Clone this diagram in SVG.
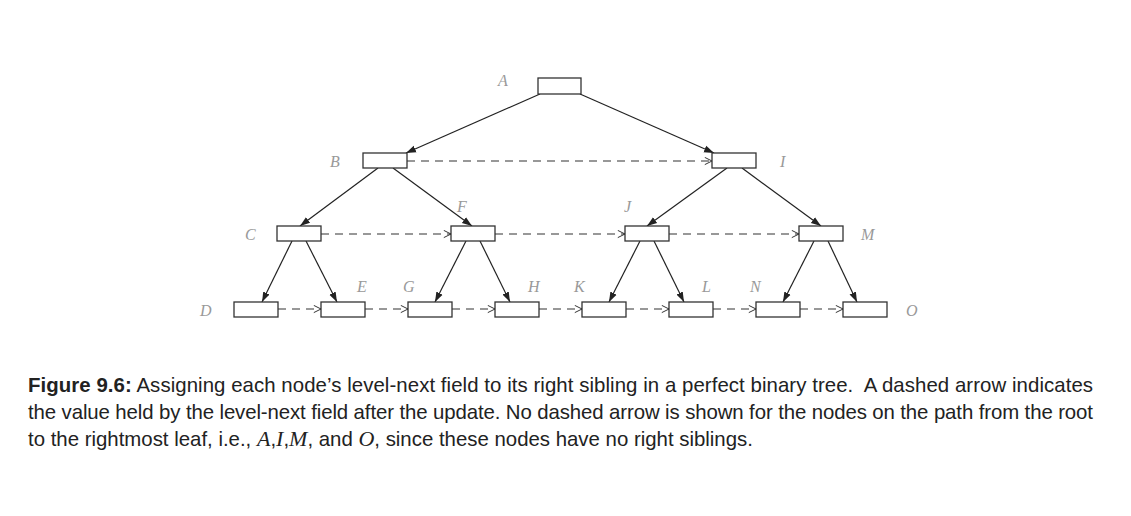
<svg xmlns="http://www.w3.org/2000/svg" width="1131" height="516" viewBox="0 0 1131 516">
<defs>
<marker id="solid" viewBox="0 0 10 10" refX="10" refY="5" markerWidth="10" markerHeight="10" markerUnits="userSpaceOnUse" orient="auto"><path d="M0,1.5 L10,5 L0,8.5 Z" fill="#222"/></marker>
<marker id="open" viewBox="0 0 10 10" refX="9" refY="5" markerWidth="9" markerHeight="9" markerUnits="userSpaceOnUse" orient="auto"><path d="M1,1 L9,5 L1,9" fill="none" stroke="#333" stroke-width="1.1"/></marker>
</defs>
<style>
.n{fill:#fff;stroke:#333;stroke-width:1.3}
.lbl{font-family:"Liberation Serif",serif;font-style:italic;font-size:16px;fill:#999}
.e{stroke:#222;stroke-width:1.2;fill:none;marker-end:url(#solid)}
.d{stroke:#333;stroke-width:1.2;fill:none;stroke-dasharray:8,6;marker-end:url(#open)}
.cap{font-family:"Liberation Sans",Arial,sans-serif;font-size:20.4px;fill:#222}
.capi{font-family:"Liberation Serif",serif;font-style:italic;font-size:22px}
</style>
<rect width="1131" height="516" fill="#fff"/>
<g id="connectors">
<line class="e" x1="540" y1="94" x2="406" y2="153"/>
<line class="e" x1="580" y1="94" x2="714" y2="153"/>
<line class="e" x1="378" y1="168" x2="300" y2="226"/>
<line class="e" x1="393" y1="168" x2="472" y2="226"/>
<line class="e" x1="727" y1="168" x2="647" y2="226"/>
<line class="e" x1="742" y1="168" x2="821" y2="226"/>
<line class="e" x1="292" y1="241" x2="262" y2="302"/>
<line class="e" x1="306" y1="241" x2="337" y2="302"/>
<line class="e" x1="466" y1="241" x2="435" y2="302"/>
<line class="e" x1="480" y1="241" x2="510" y2="302"/>
<line class="e" x1="640" y1="241" x2="609" y2="302"/>
<line class="e" x1="654" y1="241" x2="684" y2="302"/>
<line class="e" x1="814" y1="241" x2="783" y2="302"/>
<line class="e" x1="828" y1="241" x2="857" y2="302"/>
<line class="d" x1="407" y1="161" x2="712" y2="161"/>
<line class="d" x1="321" y1="234" x2="451" y2="234"/>
<line class="d" x1="495" y1="234" x2="625" y2="234"/>
<line class="d" x1="669" y1="234" x2="799" y2="234"/>
<line class="d" x1="278" y1="309" x2="321" y2="309"/>
<line class="d" x1="365" y1="309" x2="408" y2="309"/>
<line class="d" x1="452" y1="309" x2="495" y2="309"/>
<line class="d" x1="539" y1="309" x2="582" y2="309"/>
<line class="d" x1="626" y1="309" x2="669" y2="309"/>
<line class="d" x1="713" y1="309" x2="756" y2="309"/>
<line class="d" x1="800" y1="309" x2="843" y2="309"/>
</g>
<g id="A"><rect class="n" x="538" y="78" width="43" height="16"/><text class="lbl" x="498" y="86">A</text></g>
<g id="B"><rect class="n" x="363" y="153" width="44" height="15"/><text class="lbl" x="330" y="167">B</text></g>
<g id="I"><rect class="n" x="712" y="153" width="44" height="15"/><text class="lbl" x="780" y="167">I</text></g>
<g id="C"><rect class="n" x="277" y="226" width="44" height="15"/><text class="lbl" x="245" y="240">C</text></g>
<g id="F"><rect class="n" x="451" y="226" width="44" height="15"/><text class="lbl" x="457" y="212">F</text></g>
<g id="J"><rect class="n" x="625" y="226" width="44" height="15"/><text class="lbl" x="624" y="212">J</text></g>
<g id="M"><rect class="n" x="799" y="226" width="44" height="15"/><text class="lbl" x="861" y="240">M</text></g>
<g id="D"><rect class="n" x="234" y="302" width="44" height="15"/><text class="lbl" x="200" y="316">D</text></g>
<g id="E"><rect class="n" x="321" y="302" width="44" height="15"/><text class="lbl" x="357" y="292">E</text></g>
<g id="G"><rect class="n" x="408" y="302" width="44" height="15"/><text class="lbl" x="403" y="292">G</text></g>
<g id="H"><rect class="n" x="495" y="302" width="44" height="15"/><text class="lbl" x="528" y="292">H</text></g>
<g id="K"><rect class="n" x="582" y="302" width="44" height="15"/><text class="lbl" x="574" y="292">K</text></g>
<g id="L"><rect class="n" x="669" y="302" width="44" height="15"/><text class="lbl" x="702" y="292">L</text></g>
<g id="N"><rect class="n" x="756" y="302" width="44" height="15"/><text class="lbl" x="750" y="292">N</text></g>
<g id="O"><rect class="n" x="843" y="302" width="44" height="15"/><text class="lbl" x="906" y="316">O</text></g>
<g id="caption">
<text class="cap" x="28" y="392" textLength="1065" lengthAdjust="spacing"><tspan font-weight="bold">Figure 9.6:</tspan> Assigning each node’s level-next field to its right sibling in a perfect binary tree.&#160; A dashed arrow indicates</text>
<text class="cap" x="28" y="419" textLength="1065" lengthAdjust="spacing">the value held by the level-next field after the update. No dashed arrow is shown for the nodes on the path from the root</text>
<text class="cap" x="28" y="446">to the rightmost leaf, i.e., <tspan class="capi">A</tspan>,<tspan class="capi">I</tspan>,<tspan class="capi">M</tspan>, and <tspan class="capi">O</tspan>, since these nodes have no right siblings.</text>
</g>
</svg>
